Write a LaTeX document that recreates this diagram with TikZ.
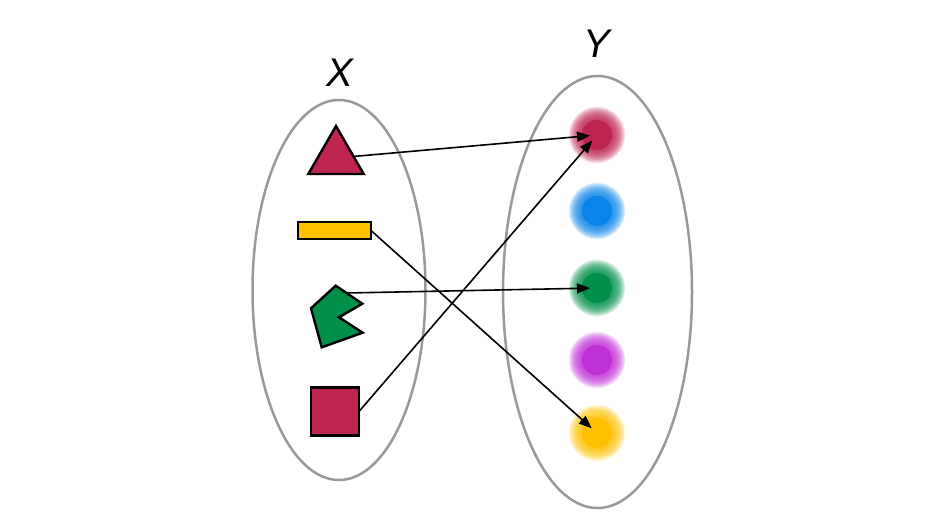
\documentclass[tikz,border=0pt]{standalone}
\usepackage{fontspec}
\setmainfont{Liberation Sans}
\usetikzlibrary{arrows.meta,shapes.geometric}
\definecolor{crimson}{HTML}{BE2450}
\definecolor{amber}{HTML}{FFC000}
\definecolor{leaf}{HTML}{00904A}
\definecolor{sky}{HTML}{0A84E8}
\definecolor{violet}{HTML}{C030D8}
\definecolor{setgray}{HTML}{999999}
\tikzset{
  setoval/.style={
    draw=setgray,
    line width=2.5pt
  },
  shapeblock/.style={
    draw=black,
    line width=2.4pt,
    line join=miter,
    inner sep=0pt,
    outer sep=0pt
  },
  dotcore/.style={
    circle,
    inner sep=0pt,
    minimum size=30pt
  },
  setlabel/.style={
    font=\fontsize{40}{44}\selectfont\itshape
  },
  every edge/.style={draw, -{Triangle[length=13pt,width=10pt]}, line width=1.6pt, shorten >=7pt}
}

\begin{document}
\begin{tikzpicture}[x=1pt,y=-1pt]
  \useasboundingbox (0,0) rectangle (945,532);

  % the two sets
  \draw[setoval] (339,290) ellipse [x radius=86.5, y radius=190];
  \draw[setoval] (597.5,292) ellipse [x radius=94.5, y radius=216];
  \node[setlabel] (xlabel) at (340,73) {X};
  \node[setlabel] (ylabel) at (597,44) {Y};

  % domain
  \node[shapeblock, regular polygon, regular polygon sides=3, minimum size=64pt, fill=crimson] (tri) at (336,158) {};
  \node[shapeblock, fill=amber, minimum width=73pt, minimum height=17pt] (bar) at (334.5,230.5) {};
  \draw[shapeblock, fill=leaf] (335.7,285.7) -- (362.3,303.7) -- (339,317.3) -- (362.7,332.7)
    -- (321.7,347.3) -- (311,308.3) -- cycle;
  \coordinate (pac) at (346.7,293);
  \node[shapeblock, fill=crimson, minimum size=48pt] (sq) at (335,411.5) {};

  % codomain
  \foreach \name/\col/\yy in {yred/crimson/135, yblue/sky/211, ygreen/leaf/288, yviolet/violet/360, yamber/amber/433} {
    \foreach \r in {28.5,28,...,15}
      \fill[\col, opacity=0.07] (597,\yy) circle[radius=\r];
    \node[dotcore, fill=\col] (\name) at (597,\yy) {};
  }

  \path (tri) edge (yred.center)
        (sq.east) edge (yred.center)
        (bar.east) edge (yamber.center)
        (pac) edge (ygreen.center);
\end{tikzpicture}
\end{document}
